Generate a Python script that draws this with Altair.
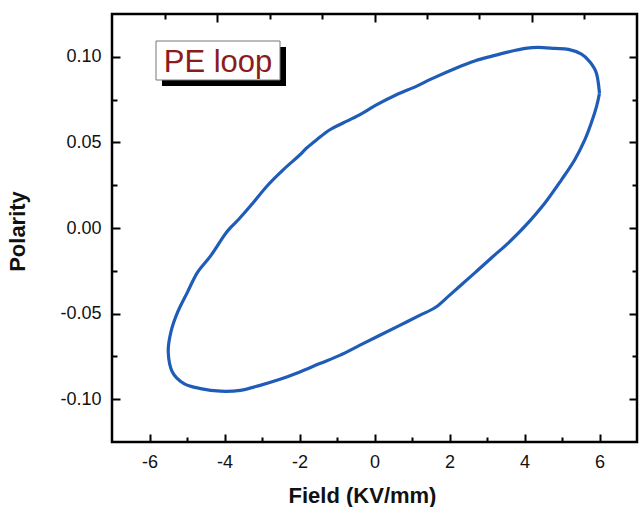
import altair as alt
import pandas as pd

# Loop traced in order: upper branch (right tip -> left tip), then lower branch back
field_vals = [6.00, 5.92, 5.74, 5.52, 5.17, 4.81, 4.37, 4.02, 3.58, 3.13, 2.69, 2.20,
              1.55, 1.10, 0.57, 0.05, -0.40, -0.84, -1.19, -1.54, -1.81, -2.03, -2.43,
              -2.87, -3.31, -3.62, -3.84, -4.02, -4.37, -4.72, -4.99, -5.25, -5.43, -5.50,
              -5.39, -5.08, -4.64, -4.11, -3.58, -3.05, -2.52, -1.99, -1.46, -0.93, -0.40,
              0.13, 0.66, 1.19, 1.63, 1.99, 2.25, 2.69, 3.13, 3.58, 4.02, 4.55, 4.99, 5.34,
              5.61, 5.78, 5.92, 6.00]
polarity_vals = [0.0787, 0.0903, 0.0971, 0.1016, 0.1043, 0.1049, 0.1055, 0.1049, 0.1029,
                 0.1004, 0.0977, 0.0936, 0.0874, 0.0826, 0.0777, 0.0719, 0.0661, 0.0613,
                 0.0574, 0.0516, 0.0467, 0.0419, 0.0341, 0.0244, 0.0128, 0.0051, 0.0002,
                 -0.0047, -0.0163, -0.0259, -0.0376, -0.0492, -0.0608, -0.0724,
                 -0.0841, -0.0909, -0.0938, -0.0953, -0.0948, -0.0919, -0.0884, -0.0841,
                 -0.0792, -0.0744, -0.0686, -0.0628, -0.0570, -0.0512, -0.0463, -0.0395,
                 -0.0345, -0.0259, -0.0172, -0.0085, 0.0012, 0.0148, 0.0283, 0.0399,
                 0.0516, 0.0613, 0.0709, 0.0787]

x_major = [-6, -4, -2, 0, 2, 4, 6]
x_minor = [-5, -3, -1, 1, 3, 5]
y_major = [-0.10, -0.05, 0.00, 0.05, 0.10]
y_minor = [-0.075, -0.025, 0.025, 0.075]
top_major = [-4.19, 0.0, 4.19]
top_minor = [-5.59, -2.79, -1.40, 1.40, 2.79, 5.59]

legend_label = ["PE loop"]

df = pd.DataFrame({"field": field_vals, "polarity": polarity_vals,
                   "idx": list(range(len(field_vals)))})

FONT = "Liberation Sans"
xs = alt.Scale(domain=[-7, 7], nice=False, zero=False)
ys = alt.Scale(domain=[-0.125, 0.125], nice=False, zero=False)


def ax(orient, values, size, labels=False, title=None, fmt=None, **extra):
    kw = dict(orient=orient, values=values, offset=-size, tickSize=size, tickWidth=2,
              tickColor="black", domain=False, grid=False, labels=labels, title=title)
    if labels:
        kw.update(labelFont=FONT, labelFontSize=18, labelColor="#111", labelPadding=11)
    if fmt:
        kw.update(labelExpr=fmt)
    if title:
        kw.update(titleFont=FONT, titleFontSize=22, titleFontWeight="bold",
                  titleColor="#111")
    kw.update(extra)
    return alt.Axis(**kw)


def layer(xaxis, yaxis, visible):
    return alt.Chart(df).mark_line(
        color="#1f5cb8", strokeWidth=3.2, interpolate="cardinal",
        opacity=1 if visible else 0
    ).encode(
        x=alt.X("field:Q", scale=xs, axis=xaxis),
        y=alt.Y("polarity:Q", scale=ys, axis=yaxis),
        order="idx:Q",
    )


yfmt = "replace(format(datum.value, '.2f'), '\u2212', '-')"
xfmt = "replace(format(datum.value, 'd'), '\u2212', '-')"

l1 = layer(ax("bottom", x_major, 8, True, "Field (KV/mm)", xfmt,
              titlePadding=14, titleX=250),
           ax("left", y_major, 8, True, "Polarity", yfmt,
              titlePadding=30, titleY=217), True)
l2 = layer(ax("bottom", x_minor, 5), ax("left", y_minor, 5), False)
l3 = layer(ax("top", top_major, 8), ax("right", y_major, 8), False)
l4 = layer(ax("top", top_minor, 5), ax("right", y_minor, 5), False)

ldf = pd.DataFrame({"label": legend_label})
shadow = alt.Chart(ldf).mark_rect(color="black").encode(
    x=alt.value(50), x2=alt.value(174), y=alt.value(33), y2=alt.value(72))
box = alt.Chart(ldf).mark_rect(fill="white", stroke="#777", strokeWidth=1).encode(
    x=alt.value(44), x2=alt.value(168), y=alt.value(27), y2=alt.value(66))
txt = alt.Chart(ldf).mark_text(font=FONT, fontSize=31, color="#8b1c1c",
                               align="center", baseline="alphabetic").encode(
    x=alt.value(106), y=alt.value(58), text="label:N")

chart = alt.layer(l2, l3, l4, l1, shadow, box, txt).resolve_axis(
    x="independent", y="independent"
).properties(
    width=525, height=428,
    autosize=alt.AutoSizeParams(type="none"),
    padding={"left": 112, "top": 14, "right": 2, "bottom": 65},
).configure(
    background="white",
    view=alt.ViewConfig(stroke="black", strokeWidth=2.5),
)

chart.save("out.html", embed_options={"renderer": "svg", "actions": False})
